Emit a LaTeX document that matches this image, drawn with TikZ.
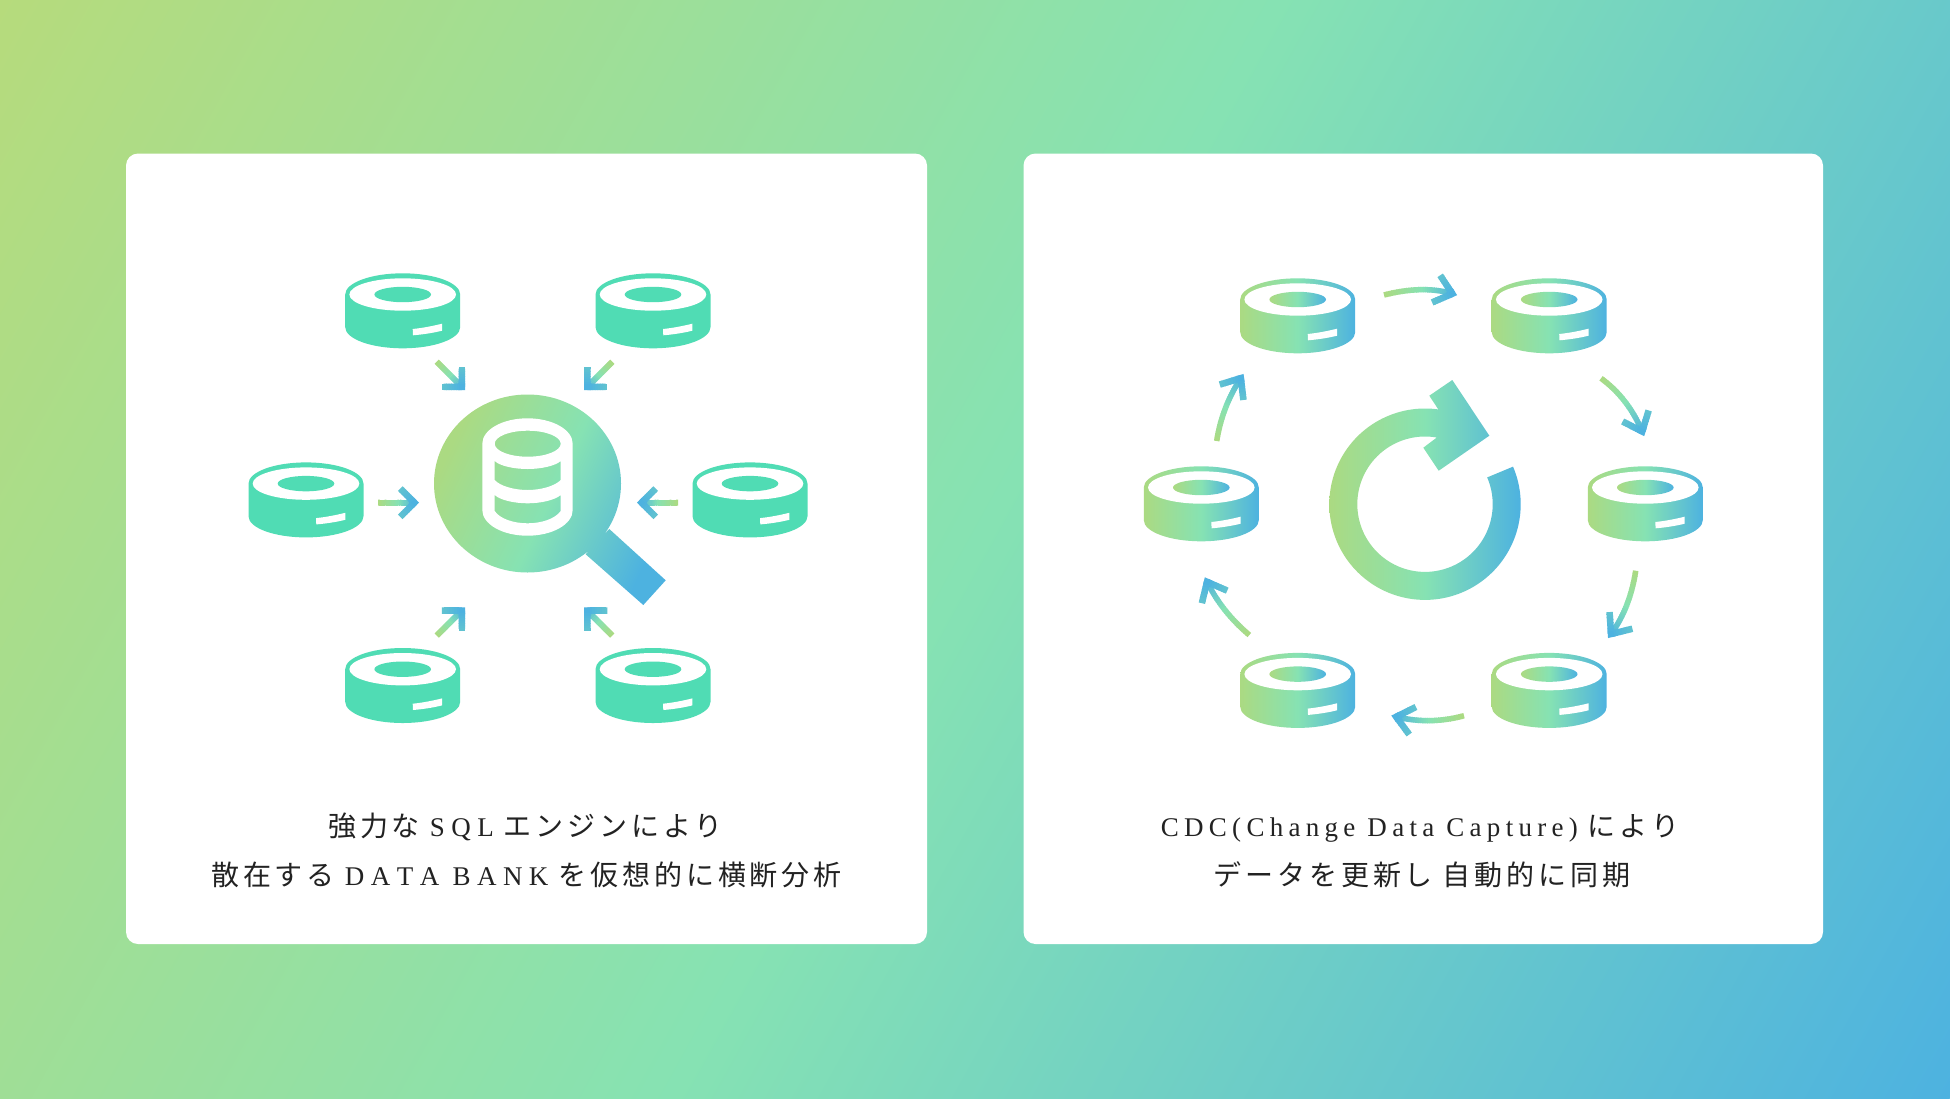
\documentclass[tikz,border=0pt]{standalone}
\usepackage{fontspec}
\usetikzlibrary{calc}
\newfontfamily\jpfont[Scale=1.037,LetterSpace=14]{Noto Sans CJK JP}
\newfontfamily\enfont[LetterSpace=19.6]{Liberation Serif}
\newfontfamily\capfont[LetterSpace=24,Kerning=Off]{Liberation Serif}
\newcommand{\jp}[1]{{\jpfont #1}}
\newcommand{\en}[1]{{\enfont #1}}
\newcommand{\caps}[1]{{\capfont #1}}
\newcommand{\gapw}{\hspace{10pt}}

\definecolor{bgleaf}{HTML}{B6DB7C}
\definecolor{gleaf}{HTML}{ABDA82}
\definecolor{gmint}{HTML}{86E2B3}
\definecolor{gsky}{HTML}{4DB2E0}
\definecolor{gteal}{HTML}{50DCB4}
\definecolor{inkblack}{HTML}{222222}

\tikzset{
  panel/.style={fill=white, rounded corners=12pt},
  caption/.style={anchor=base, inner sep=0pt, text=inkblack, font=\fontsize{27}{32}\selectfont},
  diskflat/.style={fill=gteal},
  diskgrad/.style={left color=gleaf, right color=gsky, middle color=gmint},
}

%% disk icon: #1 = position, #2 = look
\newcommand{\diskicon}[2]{%
  \begin{scope}[shift={(#1)}]
    \path[#2] (-57.5,0) .. controls (-57.5,-11.7) and (-31.8,-21.2) .. (0,-21.2)
      .. controls (31.8,-21.2) and (57.5,-11.7) .. (57.5,0) -- (57.5,32.6)
      .. controls (57.5,44.3) and (31.8,53.8) .. (0,53.8)
      .. controls (-31.8,53.8) and (-57.5,44.3) .. (-57.5,32.6) -- cycle;
    \fill[white] (0,0) ellipse [x radius=53.3, y radius=16.2];
    \path[#2] (0,0) ellipse [x radius=28.3, y radius=7.7];
    \fill[white] (10,34.5) .. controls (20,33.5) and (30,31.5) .. (39.3,29.2) -- (39.3,36.2)
      .. controls (30,38.5) and (20,40) .. (10.3,40.8) -- cycle;
  \end{scope}}

%% colour-run arrow: tail, control, tip, arm length, width, arm angle
\newcommand{\flowarrow}[6]{%
  \coordinate (tipc) at ($(#3)!4.6pt!(#2)$);
  \coordinate (armA) at ($(tipc)!#4pt!#6:(#2)$);
  \coordinate (armB) at ($(tipc)!#4pt!-#6:(#2)$);
  \foreach \s in {0,...,29}{
    \pgfmathsetmacro\ta{\s/30}
    \pgfmathsetmacro\tb{min(1,(\s+1.3)/30)}
    \pgfmathsetmacro\mixa{min(100,\ta*200)}
    \pgfmathsetmacro\mixb{max(0,(\ta-0.5)*200)}
    \draw[line width=#5pt, line cap=butt, color=gsky!\mixb!gmint!\mixa!gleaf]
      ($($(#1)!\ta!(#2)$)!\ta!($(#2)!\ta!(tipc)$)$) -- ($($(#1)!\tb!(#2)$)!\tb!($(#2)!\tb!(tipc)$)$);
  }
  \draw[line width=6.5pt, line cap=butt, line join=miter, color=gsky]
    ($(tipc)!0.2!(armA)$) -- (tipc) -- ($(tipc)!0.2!(armB)$);
  \foreach \q in {0,...,7}{
    \pgfmathsetmacro\pa{\q/8}
    \pgfmathsetmacro\pb{min(1,(\q+1.3)/8)}
    \pgfmathsetmacro\mixc{100-\pa*38}
    \draw[line width=6.5pt, line cap=butt, color=gsky!\mixc!gmint]
      ($(tipc)!\pa!(armA)$) -- ($(tipc)!\pb!(armA)$);
    \draw[line width=6.5pt, line cap=butt, color=gsky!\mixc!gmint]
      ($(tipc)!\pa!(armB)$) -- ($(tipc)!\pb!(armB)$);
  }
}

\begin{document}
\begin{tikzpicture}[x=1pt, y=-1pt]

  %% ════ background and panels ════
  \begin{scope}
    \clip (0,0) rectangle (1950,1098);
    \shade[transform canvas={rotate around={-29:(975,549)}}, left color=bgleaf, right color=gsky, middle color=gmint]
      (-144,-1000) rectangle (2094,2100);
  \end{scope}
  \fill[panel] (126,153.5) rectangle (927,944);
  \fill[panel] (1023.5,153.5) rectangle (1823,944);

  %% ════ left panel: disks ════
  \coordinate (dbTL) at (402.7,294.5);
  \coordinate (dbTR) at (653,294.5);
  \coordinate (dbML) at (306,483.6);
  \coordinate (dbMR) at (750,483.6);
  \coordinate (dbBL) at (402.7,669.2);
  \coordinate (dbBR) at (653,669.2);
  \foreach \db in {dbTL,dbTR,dbML,dbMR,dbBL,dbBR}{\diskicon{\db}{diskflat}}

  %% ════ left panel: magnifier ════
  \shade[left color=gleaf, right color=gsky, middle color=gmint, shading angle=65]
    (527.5,483.5) ellipse [x radius=93.5, y radius=89]
    (609.3,529) -- (665.7,580.3) -- (643.3,605) -- (585.7,554.3) -- cycle;
  \fill[white, even odd rule]
    (482.3,443.7) .. controls (482.3,429.7) and (502.5,418.3) .. (527.5,418.3)
      .. controls (552.5,418.3) and (572.7,429.7) .. (572.7,443.7) -- (572.7,510)
      .. controls (572.7,524.2) and (552.5,535.7) .. (527.5,535.7)
      .. controls (502.5,535.7) and (482.3,524.2) .. (482.3,510) -- cycle
    (527.7,443.7) ellipse [x radius=33, y radius=13]
    (494.7,461) .. controls (500,466) and (514,469) .. (527.7,469)
      .. controls (541,469) and (555,466) .. (560.7,461) -- (560.7,480)
      .. controls (555,486) and (541,490) .. (527.7,490)
      .. controls (514,490) and (500,486) .. (494.7,480) -- cycle
    (494.7,495) .. controls (500,500) and (514,503.3) .. (527.7,503.3)
      .. controls (541,503.3) and (555,500) .. (560.7,495) -- (560.7,511)
      .. controls (555,519) and (541,523.3) .. (527.7,523.3)
      .. controls (514,523.3) and (500,519) .. (494.7,511) -- cycle;

  %% ════ left panel: arrows ════
  \foreach \nm/\tx/\ty/\hx/\hy in {a/436.7/361.7/465/390, b/612.3/361.7/584/390,
      c/678/502.7/637/502.7, d/378/502.7/419/502.7,
      e/436.7/635.6/465/607.3, f/612.3/635.6/584/607.3}{
    \coordinate (\nm s) at (\tx,\ty);
    \coordinate (\nm h) at (\hx,\hy);
    \flowarrow{\nm s}{$(\nm s)!0.5!(\nm h)$}{\nm h}{20}{6}{45}
  }

  %% ════ right panel: disks ════
  \coordinate (rdA) at (1297.7,299.5);
  \coordinate (rdB) at (1549.2,299.5);
  \coordinate (rdC) at (1645.3,487.5);
  \coordinate (rdD) at (1549.2,674.1);
  \coordinate (rdE) at (1297.7,674.1);
  \coordinate (rdF) at (1201.3,487.5);
  \foreach \db in {rdA,rdB,rdC,rdD,rdE,rdF}{\diskicon{\db}{diskgrad}}

  %% ════ right panel: circular arrow ════
  \shade[left color=gleaf, right color=gsky, middle color=gmint]
    plot[domain=23.1:-278, samples=150] ({1425+95.7*cos(\x)},{504.2-95.7*sin(\x)})
    -- (1429.3,395.7) -- (1452.3,380) -- (1489.3,435.7) -- (1438.7,470.7) -- (1423.3,447.7)
    -- plot[domain=-280:23.3, samples=150] ({1425+67.7*cos(\x)},{504.2-67.7*sin(\x)}) -- cycle;

  %% ════ right panel: arrows ════
  \coordinate (abS) at (1384,295);     \coordinate (abC) at (1423,285);     \coordinate (abT) at (1456.7,295);
  \coordinate (bcS) at (1601,378.3);   \coordinate (bcC) at (1628,398);     \coordinate (bcT) at (1644,435.7);
  \coordinate (cdS) at (1635.7,570.7); \coordinate (cdC) at (1630,608);     \coordinate (cdT) at (1608.3,637.7);
  \coordinate (deS) at (1464,715.7);   \coordinate (deC) at (1430,725);     \coordinate (deT) at (1391.7,715.7);
  \coordinate (efS) at (1249.3,635);   \coordinate (efC) at (1222,612);     \coordinate (efT) at (1205,577.7);
  \coordinate (faS) at (1216.7,441);   \coordinate (faC) at (1222,407);     \coordinate (faT) at (1243.3,374.3);
  \flowarrow{abS}{abC}{abT}{22}{5.5}{40}
  \flowarrow{bcS}{bcC}{bcT}{22}{5.5}{40}
  \flowarrow{cdS}{cdC}{cdT}{22}{5.5}{40}
  \flowarrow{deS}{deC}{deT}{22}{5.5}{40}
  \flowarrow{efS}{efC}{efT}{22}{5.5}{40}
  \flowarrow{faS}{faC}{faT}{22}{5.5}{40}

  %% ════ captions ════
  \node[caption] (lcapA) at (525.5,836) {\jp{強力な}\gapw\caps{SQL}\gapw\jp{エンジンにより}};
  \node[caption] (lcapB) at (526.5,885.5) {\jp{散在する}\gapw\caps{DATA BANK}\gapw\jp{を仮想的に横断分析}};
  \node[caption] (rcapA) at (1420,836) {\en{CDC(Change Data Capture)}\gapw\jp{により}};
  \node[caption] (rcapB) at (1422,885.5) {\jp{データを更新し}\gapw\jp{自動的に同期}};

  \pgfresetboundingbox
  \path[use as bounding box] (0,0) rectangle (1950,1098);
\end{tikzpicture}
\end{document}
